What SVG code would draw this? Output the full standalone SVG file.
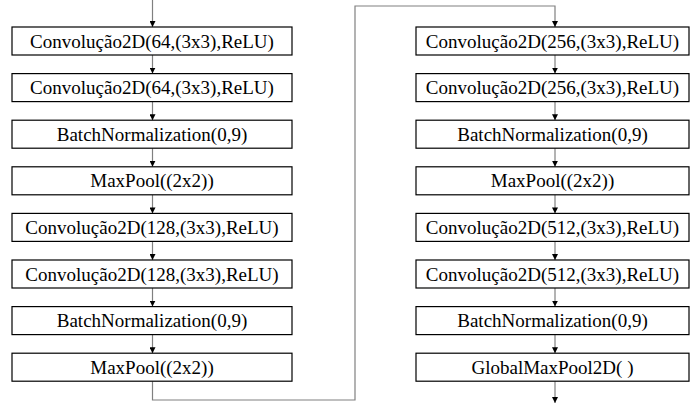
<svg xmlns="http://www.w3.org/2000/svg" width="691" height="403" viewBox="0 0 691 403">
<style>
.box{fill:#fff;stroke:#000;stroke-width:1.2}
text{font-family:'Liberation Serif','Times New Roman',serif;font-size:19px;fill:#000;text-anchor:middle}
.c{fill:none;stroke:#808080;stroke-width:1.2}
</style>
<defs>
<marker id="ah" viewBox="0 0 10 10" refX="10" refY="5" markerWidth="6" markerHeight="6" markerUnits="userSpaceOnUse" orient="auto">
<path d="M0,0 L10,5 L0,10 Z" fill="#000"/>
</marker>
</defs>
<g id="connectors">
<line class="c" x1="152.5" y1="0" x2="152.5" y2="27" marker-end="url(#ah)"/>
<line class="c" x1="152.5" y1="55" x2="152.5" y2="73.6" marker-end="url(#ah)"/>
<line class="c" x1="152.5" y1="101.6" x2="152.5" y2="120.2" marker-end="url(#ah)"/>
<line class="c" x1="152.5" y1="148.2" x2="152.5" y2="166.8" marker-end="url(#ah)"/>
<line class="c" x1="152.5" y1="194.8" x2="152.5" y2="213.4" marker-end="url(#ah)"/>
<line class="c" x1="152.5" y1="241.4" x2="152.5" y2="260" marker-end="url(#ah)"/>
<line class="c" x1="152.5" y1="288" x2="152.5" y2="306.6" marker-end="url(#ah)"/>
<line class="c" x1="152.5" y1="334.6" x2="152.5" y2="353.2" marker-end="url(#ah)"/>
<polyline class="c" points="152.5,381.2 152.5,400 355,400 355,6 555,6 555,27" marker-end="url(#ah)"/>
<line class="c" x1="555" y1="55" x2="555" y2="73.6" marker-end="url(#ah)"/>
<line class="c" x1="555" y1="101.6" x2="555" y2="120.2" marker-end="url(#ah)"/>
<line class="c" x1="555" y1="148.2" x2="555" y2="166.8" marker-end="url(#ah)"/>
<line class="c" x1="555" y1="194.8" x2="555" y2="213.4" marker-end="url(#ah)"/>
<line class="c" x1="555" y1="241.4" x2="555" y2="260" marker-end="url(#ah)"/>
<line class="c" x1="555" y1="288" x2="555" y2="306.6" marker-end="url(#ah)"/>
<line class="c" x1="555" y1="334.6" x2="555" y2="353.2" marker-end="url(#ah)"/>
<line class="c" x1="555" y1="381.2" x2="555" y2="403" marker-end="url(#ah)"/>
</g>
<g id="L1"><rect class="box" x="12" y="27" width="280" height="28"/><text x="152" y="47.5">Convolução2D(64,(3x3),ReLU)</text></g>
<g id="L2"><rect class="box" x="12" y="73.6" width="280" height="28"/><text x="152" y="94.1">Convolução2D(64,(3x3),ReLU)</text></g>
<g id="L3"><rect class="box" x="12" y="120.2" width="280" height="28"/><text x="152" y="140.7">BatchNormalization(0,9)</text></g>
<g id="L4"><rect class="box" x="12" y="166.8" width="280" height="28"/><text x="152" y="187.3">MaxPool((2x2))</text></g>
<g id="L5"><rect class="box" x="12" y="213.4" width="280" height="28"/><text x="152" y="233.9">Convolução2D(128,(3x3),ReLU)</text></g>
<g id="L6"><rect class="box" x="12" y="260" width="280" height="28"/><text x="152" y="280.5">Convolução2D(128,(3x3),ReLU)</text></g>
<g id="L7"><rect class="box" x="12" y="306.6" width="280" height="28"/><text x="152" y="327.1">BatchNormalization(0,9)</text></g>
<g id="L8"><rect class="box" x="12" y="353.2" width="280" height="28"/><text x="152" y="373.7">MaxPool((2x2))</text></g>
<g id="R1"><rect class="box" x="416" y="27" width="273" height="28"/><text x="552.5" y="47.5">Convolução2D(256,(3x3),ReLU)</text></g>
<g id="R2"><rect class="box" x="416" y="73.6" width="273" height="28"/><text x="552.5" y="94.1">Convolução2D(256,(3x3),ReLU)</text></g>
<g id="R3"><rect class="box" x="416" y="120.2" width="273" height="28"/><text x="552.5" y="140.7">BatchNormalization(0,9)</text></g>
<g id="R4"><rect class="box" x="416" y="166.8" width="273" height="28"/><text x="552.5" y="187.3">MaxPool((2x2))</text></g>
<g id="R5"><rect class="box" x="416" y="213.4" width="273" height="28"/><text x="552.5" y="233.9">Convolução2D(512,(3x3),ReLU)</text></g>
<g id="R6"><rect class="box" x="416" y="260" width="273" height="28"/><text x="552.5" y="280.5">Convolução2D(512,(3x3),ReLU)</text></g>
<g id="R7"><rect class="box" x="416" y="306.6" width="273" height="28"/><text x="552.5" y="327.1">BatchNormalization(0,9)</text></g>
<g id="R8"><rect class="box" x="416" y="353.2" width="273" height="28"/><text x="552.5" y="373.7">GlobalMaxPool2D( )</text></g>
</svg>
